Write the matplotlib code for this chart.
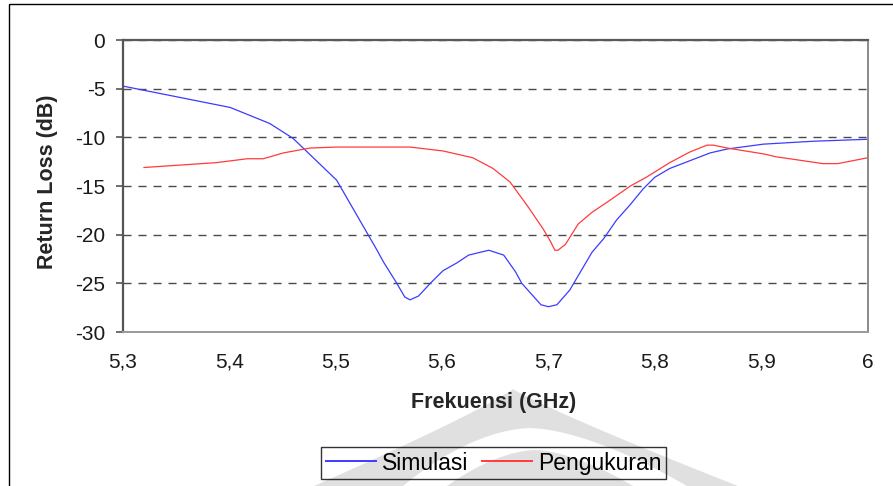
import matplotlib
matplotlib.use("Agg")
import matplotlib.pyplot as plt
from matplotlib.patches import Polygon, Rectangle
import numpy as np

plt.rcParams['font.family'] = ['Liberation Sans', 'DejaVu Sans']

# Simulated return loss
freq_sim = [5.300, 5.401, 5.438, 5.460, 5.501, 5.539, 5.545, 5.557, 5.565, 5.570,
            5.578, 5.589, 5.601, 5.614, 5.625, 5.644, 5.658, 5.669, 5.675, 5.693,
            5.700, 5.708, 5.720, 5.741, 5.752, 5.764, 5.777, 5.789, 5.800, 5.814,
            5.833, 5.852, 5.868, 5.902, 5.949, 6.000]
rl_sim = [-4.73, -6.93, -8.57, -10.1, -14.4, -21.6, -22.8, -24.9, -26.4, -26.7,
          -26.3, -25.0, -23.7, -22.9, -22.1, -21.6, -22.1, -23.8, -25.0, -27.2,
          -27.4, -27.2, -25.7, -21.8, -20.4, -18.5, -16.9, -15.3, -14.1, -13.2,
          -12.4, -11.6, -11.2, -10.7, -10.4, -10.2]

# Measured return loss
freq_meas = [5.320, 5.388, 5.417, 5.432, 5.451, 5.476, 5.501, 5.570, 5.601, 5.629,
             5.648, 5.664, 5.680, 5.695, 5.702, 5.706, 5.709, 5.716, 5.728, 5.741,
             5.756, 5.777, 5.792, 5.814, 5.833, 5.849, 5.855, 5.868, 5.902, 5.914,
             5.958, 5.972, 6.000]
rl_meas = [-13.1, -12.6, -12.2, -12.2, -11.6, -11.1, -11.0, -11.0, -11.4, -12.1,
           -13.2, -14.6, -17.0, -19.4, -20.7, -21.6, -21.6, -21.0, -18.9, -17.7,
           -16.6, -15.0, -14.1, -12.6, -11.5, -10.8, -10.8, -11.1, -11.7, -12.0,
           -12.7, -12.7, -12.1]

x_ticks = [5.3, 5.4, 5.5, 5.6, 5.7, 5.8, 5.9, 6.0]
x_tick_labels = ['5,3', '5,4', '5,5', '5,6', '5,7', '5,8', '5,9', '6']
y_ticks = [0, -5, -10, -15, -20, -25, -30]
y_tick_labels = ['0', '-5', '-10', '-15', '-20', '-25', '-30']

W, H = 893, 486
fig = plt.figure(figsize=(W / 100, H / 100), dpi=100)

# Background layer in pixel units: faint logo and outer frame
bg = fig.add_axes([0, 0, 1, 1], zorder=-5)
bg.set_xlim(0, W)
bg.set_ylim(H, 0)
bg.axis('off')


def dome(cx_top, cx_base, tip, base_y, half_w, p):
    ys = np.linspace(tip, base_y + 20, 120)
    t = np.clip((ys - tip) / (base_y - tip), 0, None)
    cx = cx_top + (cx_base - cx_top) * t
    w = half_w * t ** p
    left = np.column_stack([cx - w, ys])
    right = np.column_stack([cx + w, ys])[::-1]
    return np.vstack([left, right])


logo_grey = '#e0e0e0'
bg.add_patch(Polygon(dome(513, 526, 389, 486, 212, 1.1), closed=True,
                     facecolor=logo_grey, edgecolor='none'))
bg.add_patch(Polygon(dome(530, 545, 428, 486, 142, 0.6), closed=True,
                     facecolor='white', edgecolor='none'))
bg.add_patch(Polygon(dome(535, 540, 450, 486, 93, 0.6), closed=True,
                     facecolor=logo_grey, edgecolor='none'))
bg.add_patch(Rectangle((8.5, 4.5), 900, 500, fill=False, edgecolor='black',
                       linewidth=1.0))

x0, x1 = 122.7, 867.7
y0, y1 = 40, 332
ax = fig.add_axes([x0 / W, 1 - y1 / H, (x1 - x0) / W, (y1 - y0) / H])
ax.set_facecolor('none')

ax.plot(freq_sim, rl_sim, color='#3b3bff', linewidth=0.9, label='Simulasi')
ax.plot(freq_meas, rl_meas, color='#ff3b3b', linewidth=0.9, label='Pengukuran')

ax.set_xlim(5.3, 6.0)
ax.set_ylim(-30, 0)
ax.set_xticks(x_ticks)
ax.set_xticklabels(x_tick_labels)
ax.set_yticks(y_ticks)
ax.set_yticklabels(y_tick_labels)

ax.grid(axis='y', color='#4a4a4a', linestyle=(0, (5.8, 5.0)), linewidth=1.0)
ax.set_axisbelow(True)

ax.tick_params(axis='x', length=0, pad=15, labelsize=15, colors='#1a1a1a')
ax.tick_params(axis='y', length=5, width=1.2, pad=7.5, labelsize=15,
               colors='#555555', labelcolor='#1a1a1a')

ax.spines['left'].set_color('#555555')
ax.spines['left'].set_linewidth(1.6)
ax.spines['top'].set_color('#5a5a5a')
ax.spines['top'].set_linewidth(1.6)
ax.spines['right'].set_color('#8a8a8a')
ax.spines['right'].set_linewidth(1.4)
ax.spines['bottom'].set_color('#9a9a9a')
ax.spines['bottom'].set_linewidth(1.4)

fig.text(493.5 / W, 1 - 402 / H, 'Frekuensi (GHz)', ha='center', va='center',
         fontsize=15.5, fontweight='bold', color='#262626')
fig.text(48 / W, 1 - 182 / H, 'Return Loss (dB)', ha='center', va='center',
         rotation=90, fontsize=15.5, fontweight='bold', color='#262626')

leg = fig.legend(loc='center', bbox_to_anchor=(493.5 / W, 1 - 463 / H), ncol=2,
                 fontsize=16.5, frameon=True, fancybox=False, edgecolor='black',
                 handlelength=2.2, handletextpad=0.25, columnspacing=0.6,
                 borderpad=0.2, borderaxespad=0)
leg.get_frame().set_facecolor('none')
leg.get_frame().set_linewidth(1.0)
for line in leg.get_lines():
    line.set_linewidth(1.4)

fig.savefig('out.png', dpi=100)
